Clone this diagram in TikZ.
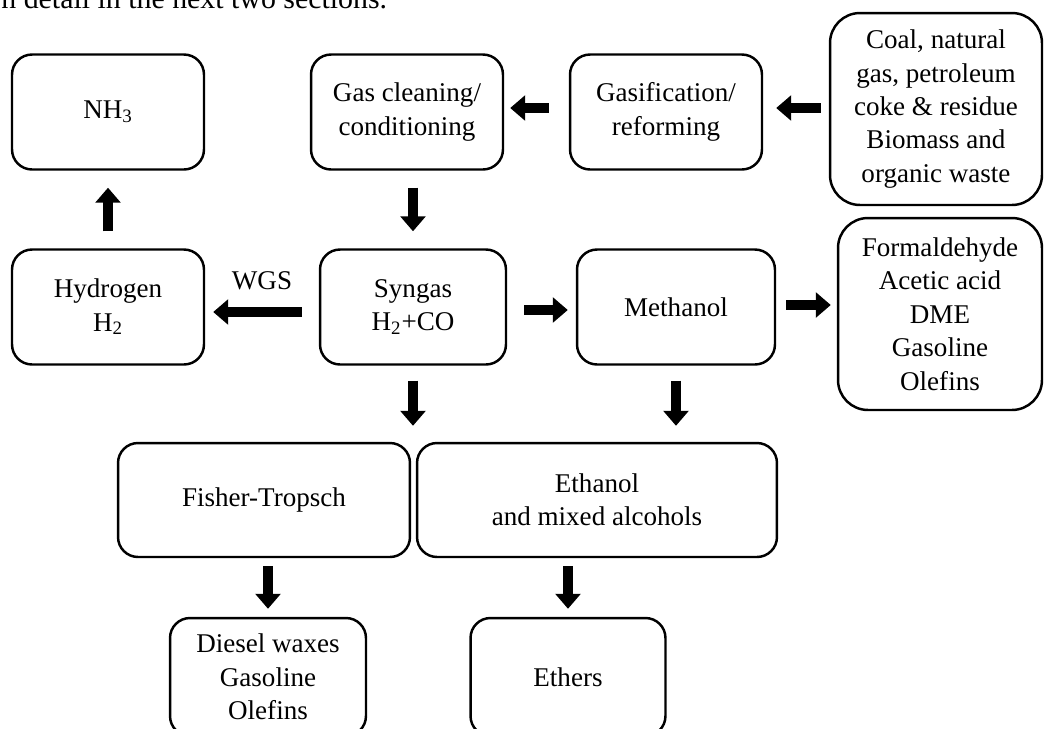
\documentclass[tikz,border=0pt]{standalone}
\usepackage{fontspec}
\setmainfont{Liberation Serif}
\usepackage{tikz}
\usetikzlibrary{arrows.meta}
\usetikzlibrary{positioning}
\usetikzlibrary{calc}
\tikzset{
    box/.style={draw=black, line width=1.4pt, rounded corners=0.4cm, align=center,
        minimum width=3.84cm, minimum height=2.3cm, inner sep=0pt,
        font=\fontsize{15.4}{19}\selectfont},
    bigbox/.style={box, rounded corners=0.6cm, minimum height=3.84cm},
    blockarrow/.style={draw=black, line width=6.2pt,
        -{Triangle[width=14pt,length=8.5pt]}},
}

\begin{document}
\begin{tikzpicture}[x=0.02cm, y=-0.02cm]
\useasboundingbox (0,0) rectangle (1046,728);
%TOP LINE OF TEXT
\node[anchor=base west, inner sep=0pt, font=\fontsize{17}{20}\selectfont] (intro) at (1,8) {n detail in the next two sections.};

%FIRST ROW
\node[box] (nh) at (108,112) {NH\textsubscript{3}};
\node[box] (gascl) at (407,112) {Gas cleaning/\\conditioning};
\node[box] (gasif) at (666,112) {Gasification/\\reforming};
\node[bigbox, minimum width=4.24cm] (feed) at (936,109) {Coal, natural\\gas, petroleum\\coke \& residue\\Biomass and\\organic waste};

%SECOND ROW
\node[box] (hyd) at (108,307) {Hydrogen\\H\textsubscript{2}};
\node[box, minimum width=3.72cm] (syn) at (413,307) {Syngas\\H\textsubscript{2}+CO};
\node[box, minimum width=3.96cm] (meth) at (676,307) {Methanol};
\node[bigbox, minimum width=4.08cm] (prod) at (940,314) {Formaldehyde\\Acetic acid\\DME\\Gasoline\\Olefins};

%THIRD ROW
\node[box, minimum width=5.84cm, minimum height=2.28cm] (ft) at (264,500) {Fisher-Tropsch};
\node[box, minimum width=7.2cm, minimum height=2.28cm] (eth) at (597,500) {Ethanol\\and mixed alcohols};

%BOTTOM ROW
\node[box, minimum width=3.92cm, minimum height=2.36cm] (diesel) at (268,677) {Diesel waxes\\Gasoline\\Olefins};
\node[box, minimum width=3.9cm, minimum height=2.36cm] (ethers) at (568,677) {Ethers};

%ARROWS
\draw[blockarrow, shorten <=0.16cm, shorten >=0.26cm] ([yshift=0.08cm]gasif.east -| feed.west) -- ([yshift=0.08cm]gasif.east);
\draw[blockarrow, shorten <=0.4cm, shorten >=0.12cm] ([yshift=0.08cm]gasif.west) -- ([yshift=0.08cm]gascl.east);
\draw[blockarrow, shorten <=0.34cm, shorten >=0.34cm] (gascl.south -| syn.north) -- (syn.north);
\draw[blockarrow, shorten <=0.34cm, shorten >=0.34cm] (hyd.north) -- (nh.south);
\draw[blockarrow, shorten <=0.34cm, shorten >=0.16cm] ([yshift=-0.1cm]syn.west) -- ([yshift=-0.1cm]hyd.east)
    node[midway, above=0.22cm, font=\fontsize{15.4}{19}\selectfont] (wgs) {WGS};
\draw[blockarrow, shorten <=0.34cm, shorten >=0.16cm] ([yshift=-0.06cm]syn.east) -- ([yshift=-0.06cm]meth.west);
\draw[blockarrow, shorten <=0.2cm, shorten >=0.12cm] ([yshift=0.04cm]meth.east) -- ([yshift=0.04cm]meth.east -| prod.west);
\draw[blockarrow, shorten <=0.3cm, shorten >=0.32cm] (syn.south) -- (syn.south |- ft.north);
\draw[blockarrow, shorten <=0.3cm, shorten >=0.32cm] (meth.south) -- (meth.south |- eth.north);
\draw[blockarrow, shorten <=0.16cm, shorten >=0.16cm] (diesel.north |- ft.south) -- (diesel.north);
\draw[blockarrow, shorten <=0.16cm, shorten >=0.16cm] (ethers.north |- eth.south) -- (ethers.north);
\end{tikzpicture}
\end{document}
